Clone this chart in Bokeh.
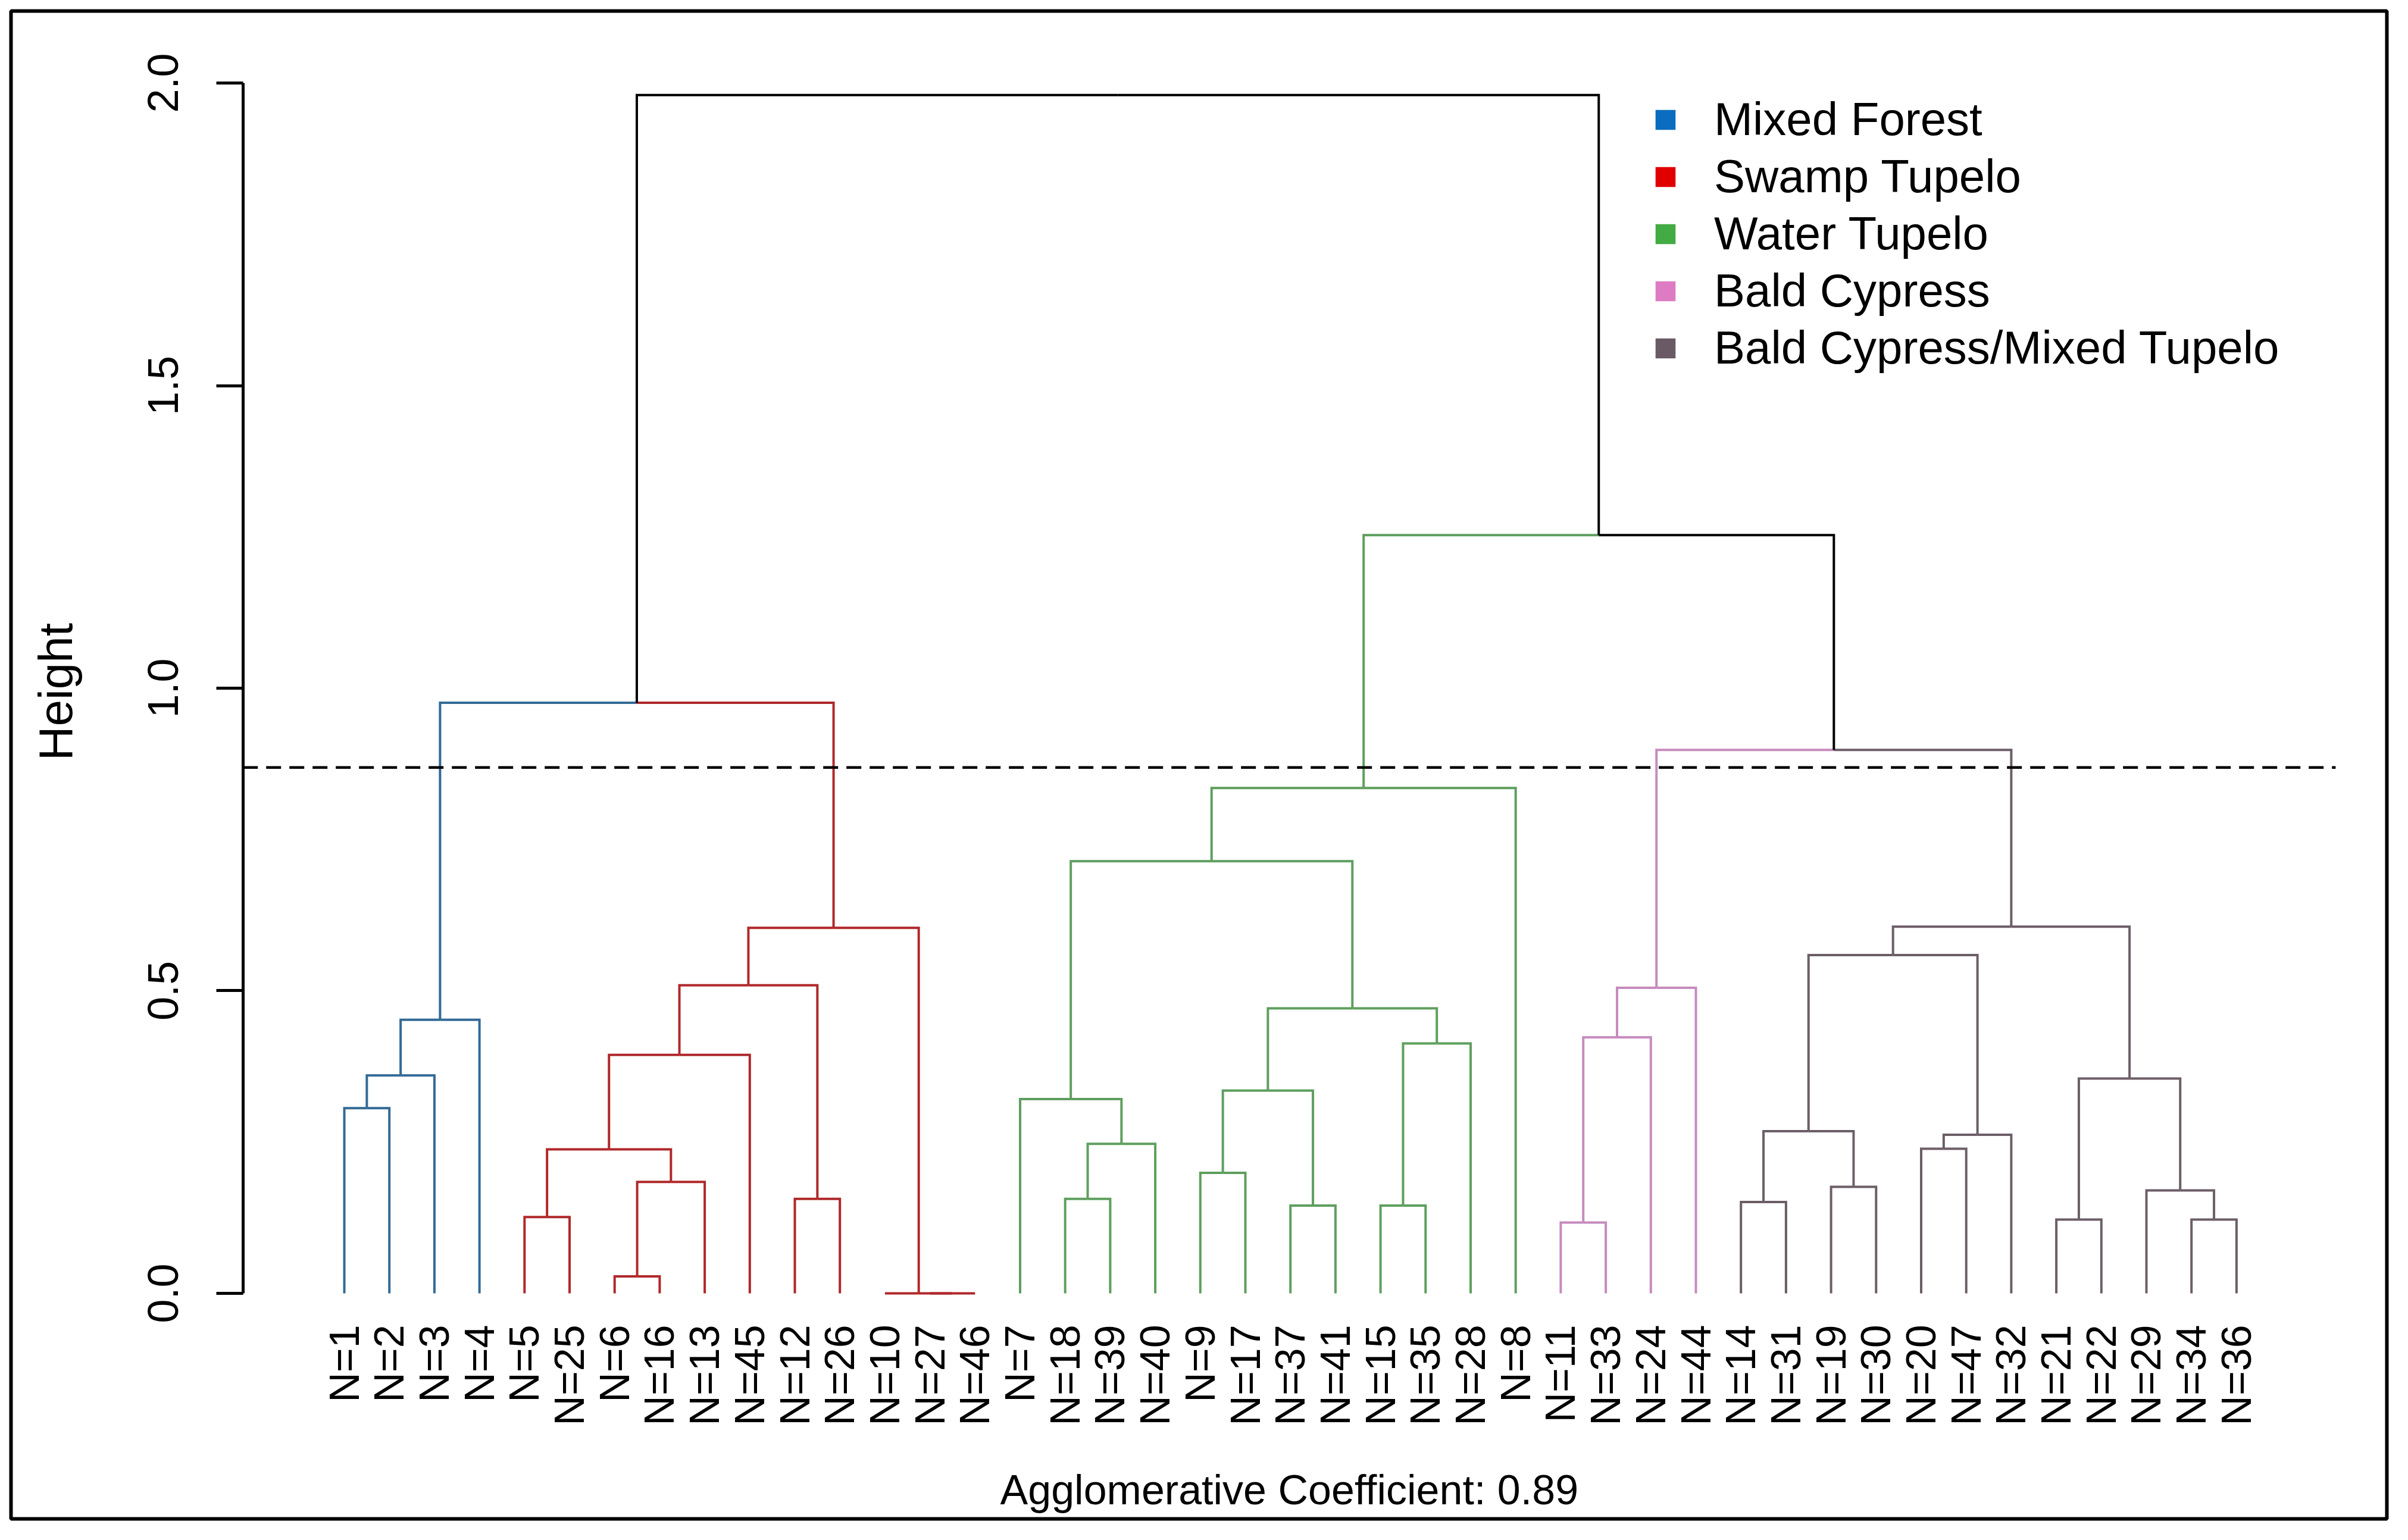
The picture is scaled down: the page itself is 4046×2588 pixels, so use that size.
import math
from bokeh.plotting import figure
from bokeh.models import (ColumnDataSource, LinearAxis, FixedTicker, Label, Legend,
                          LegendItem, Range1d)
from bokeh.embed import file_html
from bokeh.resources import INLINE
from bokeh.core.properties import value

# ---------------- data ----------------
leaf_labels = ["N=1", "N=2", "N=3", "N=4",
               "N=5", "N=25", "N=6", "N=16", "N=13", "N=45", "N=12", "N=26", "N=10", "N=27", "N=46",
               "N=7", "N=18", "N=39", "N=40", "N=9", "N=17", "N=37", "N=41", "N=15", "N=35", "N=28", "N=8",
               "N=11", "N=33", "N=24", "N=44",
               "N=14", "N=31", "N=19", "N=30", "N=20", "N=47", "N=32", "N=21", "N=22", "N=29", "N=34", "N=36"]
leaf_group = [0] * 4 + [1] * 11 + [2] * 12 + [3] * 4 + [4] * 12

# merges: leaves referenced by label, earlier merges by "m<k>"
merge_left = ["N=1", "m0", "m1", "N=5", "N=6", "m4", "m3", "m6", "N=12", "m7", "N=27", "N=10", "m9", "m2",
              "N=18", "m14", "N=7", "N=9", "N=37", "m17", "N=15", "m20", "m19", "m16", "m23",
              "N=11", "m25", "m26",
              "N=14", "N=19", "m28", "N=20", "m31", "m30", "N=21", "N=34", "N=29", "m34", "m33",
              "m27", "m24", "m13"]
merge_right = ["N=2", "N=3", "N=4", "N=25", "N=16", "N=13", "m5", "N=45", "N=26", "m8", "N=46", "m10", "m11", "m12",
               "N=39", "N=40", "m15", "N=17", "N=41", "m18", "N=35", "N=28", "m21", "m22", "N=8",
               "N=33", "N=24", "N=44",
               "N=31", "N=30", "m29", "N=47", "N=32", "m32", "N=22", "N=36", "m35", "m36", "m37",
               "m38", "m39", "m40"]
merge_height = [0.306, 0.360, 0.452, 0.126, 0.028, 0.184, 0.238, 0.394, 0.156, 0.509, 0.0, 0.0, 0.604, 0.976,
                0.156, 0.247, 0.321, 0.199, 0.145, 0.335, 0.145, 0.413, 0.471, 0.714, 0.835,
                0.117, 0.423, 0.505,
                0.151, 0.176, 0.268, 0.239, 0.262, 0.559, 0.122, 0.122, 0.170, 0.355, 0.606,
                0.898, 1.253, 1.980]

group_names = ["Mixed Forest", "Swamp Tupelo", "Water Tupelo", "Bald Cypress", "Bald Cypress/Mixed Tupelo"]
group_line_colors = ["#336A96", "#B0282A", "#5E9F5E", "#C68BBE", "#6C5E67"]
group_legend_colors = ["#0B6DBF", "#E00000", "#43AB43", "#DD7CC2", "#6A5A66"]

y_ticks = [0.0, 0.5, 1.0, 1.5, 2.0]
y_tick_labels = ["0.0", "0.5", "1.0", "1.5", "2.0"]
cut_height = 0.869
agglomerative_coefficient = 0.89

# ---------------- layout constants ----------------
FONT = "Liberation Sans"
AXIS_X = -1.25           # where the height axis sits
PLOT_X_END = 45.2        # right end of R's plot region
LEAF_LABEL_Y = -0.052

# ---------------- build dendrogram branches ----------------
pos = {lab: i + 1 for i, lab in enumerate(leaf_labels)}
hgt = {lab: 0.0 for lab in leaf_labels}
grp = {lab: g for lab, g in zip(leaf_labels, leaf_group)}

xs, ys, cols = [], [], []
for k, (a, b, h) in enumerate(zip(merge_left, merge_right, merge_height)):
    name = f"m{k}"
    pos[name] = (pos[a] + pos[b]) / 2.0
    hgt[name] = h
    grp[name] = grp[a] if grp[a] == grp[b] else -1
    for c in (a, b):
        xs.append([pos[c], pos[c], pos[name]])
        ys.append([hgt[c], h, h])
        cols.append(group_line_colors[grp[c]] if grp[c] >= 0 else "black")

branch_src = ColumnDataSource(dict(xs=xs, ys=ys, color=cols))

p = figure(width=4030, height=2572, output_backend="svg", toolbar_location=None, tools="",
           x_range=Range1d(-6.398, 46.337), y_range=Range1d(-0.3727, 2.119),
           x_axis_type=None, y_axis_type=None,
           min_border_left=18, min_border_right=20, min_border_top=18, min_border_bottom=20)
p.outline_line_color = "black"
p.outline_line_width = 6
p.background_fill_color = "white"
p.border_fill_color = "white"

p.multi_line(xs="xs", ys="ys", line_color="color", line_width=4, line_join="miter",
             source=branch_src)

# cut line
p.line(x=[AXIS_X, PLOT_X_END], y=[cut_height, cut_height], line_color="black",
       line_width=4.5, line_dash="25 14")

# leaf labels
leaf_src = ColumnDataSource(dict(x=[pos[l] for l in leaf_labels],
                                 y=[LEAF_LABEL_Y] * len(leaf_labels),
                                 text=leaf_labels))
p.text(x="x", y="y", text="text", source=leaf_src, angle=math.pi / 2,
       text_align="right", text_baseline="middle", text_color="black",
       text_font=value(FONT), text_font_size=value("70px"))

# y axis
yaxis = LinearAxis(fixed_location=AXIS_X, bounds=(0, 2), ticker=FixedTicker(ticks=y_ticks))
yaxis.major_label_overrides = {t: s for t, s in zip(y_ticks, y_tick_labels)}
yaxis.major_label_orientation = "parallel"
yaxis.major_label_text_font = FONT
yaxis.major_label_text_font_size = "72px"
yaxis.major_label_text_color = "black"
yaxis.major_label_standoff = 64
yaxis.axis_line_width = 5
yaxis.axis_line_color = "black"
yaxis.major_tick_line_width = 5
yaxis.major_tick_line_color = "black"
yaxis.major_tick_out = 45
yaxis.major_tick_in = 0
yaxis.minor_tick_line_color = None
p.add_layout(yaxis, "left")

p.add_layout(Label(x=-5.41, y=0.994, text="Height", angle=math.pi / 2,
                   text_align="center", text_baseline="alphabetic",
                   text_font=FONT, text_font_size="80px", text_color="black"))

p.add_layout(Label(x=(AXIS_X + PLOT_X_END) / 2, y=-0.325,
                   text=f"Agglomerative Coefficient: {agglomerative_coefficient:.2f}",
                   text_align="center", text_baseline="alphabetic",
                   text_font=FONT, text_font_size="70px", text_color="black"))

# legend (swatch renderers carry no visible geometry)
nan = float("nan")
items = []
for name, col in zip(group_names, group_legend_colors):
    r = p.quad(left=[nan], right=[nan], top=[nan], bottom=[nan], fill_color=col, line_color=None)
    items.append(LegendItem(label=name, renderers=[r]))
legend = Legend(items=items, location=(2759, 1919.5), glyph_width=42, glyph_height=42,
                label_height=96, spacing=0, padding=0, margin=0, label_standoff=61,
                label_text_font=FONT, label_text_font_size="78px", label_text_color="black",
                border_line_color=None, background_fill_alpha=0)
p.add_layout(legend)

open("out.html", "w").write(file_html(p, INLINE))
